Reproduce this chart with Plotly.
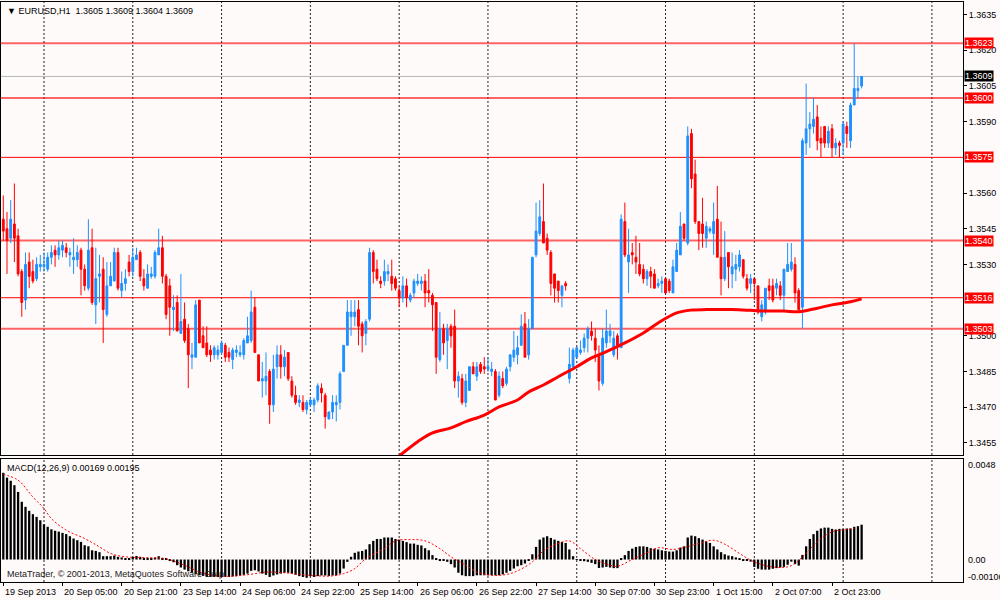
import plotly.graph_objects as go

# EURUSD H1, one entry per hourly bar (19 Sep 2013 13:00 .. 3 Oct 2013 07:00)
opens = [
    1.3549, 1.3545, 1.3541, 1.3547, 1.3542, 1.3527, 1.3515, 1.3531, 1.3527, 1.3524,
    1.3529, 1.3529, 1.3528, 1.3533, 1.3536, 1.3534, 1.3536, 1.3537, 1.3534, 1.3532,
    1.3532, 1.3536, 1.3528, 1.3520, 1.3537, 1.3513, 1.3525, 1.3528, 1.3509, 1.3521,
    1.3523, 1.3535, 1.3519, 1.3522, 1.3531, 1.3527, 1.3532, 1.3535, 1.3524, 1.3520,
    1.3525, 1.3525, 1.3534, 1.3537, 1.3525, 1.3521, 1.3511, 1.3514, 1.3501, 1.3507,
    1.3503, 1.3491, 1.3491, 1.3515, 1.3500, 1.3497, 1.3494, 1.3492, 1.3492, 1.3493,
    1.3496, 1.3493, 1.3490, 1.3493, 1.3492, 1.3492, 1.3497, 1.3498, 1.3512, 1.3492,
    1.3481, 1.3481, 1.3485, 1.3471, 1.3487, 1.3492, 1.3487, 1.3493, 1.3481, 1.3475,
    1.3472, 1.3472, 1.3469, 1.3471, 1.3471, 1.3473, 1.3478, 1.3475, 1.3465, 1.3468,
    1.3471, 1.3472, 1.3485, 1.3496, 1.3508, 1.3508, 1.3511, 1.3505, 1.3501, 1.3507,
    1.3535, 1.3528, 1.3523, 1.3523, 1.3526, 1.3525, 1.3524, 1.3519, 1.3516, 1.3521,
    1.3515, 1.3518, 1.3522, 1.3522, 1.3523, 1.3519, 1.3517, 1.3514, 1.3490, 1.3503,
    1.3498, 1.3504, 1.3504, 1.3481, 1.3482, 1.3472, 1.3477, 1.3487, 1.3483, 1.3488,
    1.3487, 1.3486, 1.3485, 1.3485, 1.3475, 1.3482, 1.3480, 1.3487, 1.3491, 1.3492,
    1.3496, 1.3505, 1.3492, 1.3503, 1.3534, 1.3543, 1.3548, 1.3541, 1.3535, 1.3526,
    1.3523, 1.3517, 1.3522, 1.3482, 1.3487, 1.3491, 1.3493, 1.3495, 1.3499, 1.3502,
    1.3499, 1.3492, 1.3480, 1.3497, 1.3500, 1.3492, 1.3500, 1.3495, 1.3548, 1.3531,
    1.3535, 1.3533, 1.3530, 1.3528, 1.3524, 1.3527, 1.3526, 1.3521, 1.3522, 1.3524,
    1.3523, 1.3518, 1.3527, 1.3534, 1.3547, 1.3539, 1.3585, 1.3568, 1.3548, 1.3547,
    1.3541, 1.3544, 1.3543, 1.3549, 1.3533, 1.3524, 1.3535, 1.3526, 1.3528, 1.3529,
    1.3532, 1.3524, 1.3522, 1.3524, 1.3521, 1.3508, 1.3510, 1.3521, 1.3521, 1.3520,
    1.3521, 1.3517, 1.3527, 1.3528, 1.3530, 1.3519, 1.3512, 1.3581, 1.3587, 1.3588,
    1.3592, 1.3583, 1.3588, 1.3581, 1.3587, 1.3579, 1.3581, 1.3581, 1.3588, 1.3582,
    1.3597, 1.3603, 1.3605,
]
highs = [
    1.3559, 1.3552, 1.3557, 1.3564, 1.3545, 1.3528, 1.3535, 1.3535, 1.3532, 1.3533,
    1.3534, 1.3535, 1.3535, 1.3538, 1.3538, 1.3540, 1.3540, 1.3539, 1.3537, 1.3541,
    1.3538, 1.3537, 1.3530, 1.3549, 1.3545, 1.3537, 1.3534, 1.3533, 1.3531, 1.3531,
    1.3537, 1.3537, 1.3527, 1.3528, 1.3534, 1.3537, 1.3537, 1.3536, 1.3528, 1.3530,
    1.3529, 1.3536, 1.3545, 1.3542, 1.3526, 1.3524, 1.3517, 1.3517, 1.3526, 1.3514,
    1.3505, 1.3497, 1.3515, 1.3515, 1.3504, 1.3504, 1.3496, 1.3496, 1.3496, 1.3498,
    1.3497, 1.3495, 1.3495, 1.3496, 1.3496, 1.3499, 1.3508, 1.3519, 1.3516, 1.3492,
    1.3489, 1.3493, 1.3486, 1.3492, 1.3496, 1.3496, 1.3494, 1.3493, 1.3483, 1.3479,
    1.3475, 1.3475, 1.3473, 1.3474, 1.3474, 1.3480, 1.3480, 1.3476, 1.3468, 1.3475,
    1.3475, 1.3485, 1.3496, 1.3515, 1.3515, 1.3515, 1.3515, 1.3506, 1.3507, 1.3537,
    1.3536, 1.3532, 1.3525, 1.3532, 1.3530, 1.3532, 1.3525, 1.3521, 1.3525, 1.3524,
    1.3518, 1.3524, 1.3526, 1.3525, 1.3526, 1.3528, 1.3518, 1.3514, 1.3510, 1.3505,
    1.3505, 1.3505, 1.3511, 1.3485, 1.3484, 1.3484, 1.3487, 1.3489, 1.3489, 1.3489,
    1.3491, 1.3491, 1.3489, 1.3486, 1.3485, 1.3485, 1.3487, 1.3492, 1.3502, 1.3500,
    1.3509, 1.3510, 1.3507, 1.3533, 1.3556, 1.3557, 1.3564, 1.3543, 1.3536, 1.3526,
    1.3523, 1.3521, 1.3523, 1.3495, 1.3495, 1.3495, 1.3498, 1.3501, 1.3504, 1.3506,
    1.3503, 1.3496, 1.3503, 1.3511, 1.3505, 1.3502, 1.3501, 1.3551, 1.3556, 1.3545,
    1.3539, 1.3542, 1.3539, 1.3530, 1.3528, 1.3529, 1.3528, 1.3524, 1.3525, 1.3524,
    1.3524, 1.3532, 1.3539, 1.3552, 1.3547, 1.3588, 1.3587, 1.3574, 1.3548, 1.3558,
    1.3548, 1.3546, 1.3556, 1.3563, 1.3548, 1.3544, 1.3535, 1.3535, 1.3534, 1.3536,
    1.3532, 1.3526, 1.3526, 1.3524, 1.3521, 1.3515, 1.3520, 1.3524, 1.3524, 1.3524,
    1.3523, 1.3528, 1.3539, 1.3539, 1.3533, 1.3520, 1.3583, 1.3606, 1.3594, 1.3600,
    1.3597, 1.3588, 1.3588, 1.3588, 1.3589, 1.3583, 1.3582, 1.3590, 1.3590, 1.3598,
    1.3623, 1.3609, 1.3609,
]
lows = [
    1.3540, 1.3526, 1.3539, 1.3531, 1.3525, 1.3508, 1.3511, 1.3520, 1.3522, 1.3523,
    1.3527, 1.3527, 1.3527, 1.3530, 1.3529, 1.3532, 1.3533, 1.3533, 1.3529, 1.3526,
    1.3529, 1.3517, 1.3519, 1.3519, 1.3513, 1.3505, 1.3514, 1.3497, 1.3508, 1.3521,
    1.3523, 1.3519, 1.3516, 1.3519, 1.3525, 1.3525, 1.3532, 1.3523, 1.3519, 1.3520,
    1.3524, 1.3524, 1.3534, 1.3522, 1.3507, 1.3500, 1.3502, 1.3502, 1.3501, 1.3497,
    1.3478, 1.3486, 1.3491, 1.3497, 1.3495, 1.3491, 1.3489, 1.3490, 1.3490, 1.3492,
    1.3489, 1.3489, 1.3486, 1.3491, 1.3491, 1.3490, 1.3497, 1.3497, 1.3493, 1.3481,
    1.3474, 1.3475, 1.3463, 1.3468, 1.3482, 1.3482, 1.3483, 1.3481, 1.3474, 1.3471,
    1.3470, 1.3468, 1.3467, 1.3470, 1.3468, 1.3472, 1.3472, 1.3461, 1.3465, 1.3465,
    1.3464, 1.3469, 1.3485, 1.3496, 1.3500, 1.3504, 1.3496, 1.3493, 1.3496, 1.3506,
    1.3522, 1.3523, 1.3520, 1.3521, 1.3523, 1.3519, 1.3519, 1.3512, 1.3514, 1.3512,
    1.3514, 1.3516, 1.3521, 1.3519, 1.3512, 1.3514, 1.3502, 1.3484, 1.3489, 1.3492,
    1.3486, 1.3495, 1.3478, 1.3474, 1.3471, 1.3470, 1.3477, 1.3484, 1.3481, 1.3484,
    1.3484, 1.3485, 1.3483, 1.3473, 1.3474, 1.3478, 1.3479, 1.3485, 1.3489, 1.3488,
    1.3496, 1.3491, 1.3490, 1.3503, 1.3533, 1.3542, 1.3539, 1.3534, 1.3517, 1.3514,
    1.3514, 1.3512, 1.3519, 1.3480, 1.3486, 1.3491, 1.3492, 1.3493, 1.3493, 1.3498,
    1.3489, 1.3477, 1.3479, 1.3495, 1.3497, 1.3491, 1.3490, 1.3495, 1.3533, 1.3518,
    1.3530, 1.3526, 1.3525, 1.3522, 1.3521, 1.3520, 1.3520, 1.3520, 1.3518, 1.3518,
    1.3518, 1.3518, 1.3527, 1.3534, 1.3540, 1.3538, 1.3562, 1.3547, 1.3536, 1.3537,
    1.3537, 1.3543, 1.3534, 1.3533, 1.3517, 1.3523, 1.3520, 1.3520, 1.3523, 1.3527,
    1.3524, 1.3519, 1.3518, 1.3515, 1.3509, 1.3506, 1.3509, 1.3515, 1.3514, 1.3517,
    1.3515, 1.3510, 1.3527, 1.3527, 1.3514, 1.3510, 1.3503, 1.3576, 1.3579, 1.3585,
    1.3578, 1.3575, 1.3579, 1.3579, 1.3575, 1.3576, 1.3575, 1.3576, 1.3579, 1.3579,
    1.3597, 1.3600, 1.3604,
]
closes = [
    1.3544, 1.3540, 1.3549, 1.3541, 1.3526, 1.3514, 1.3530, 1.3525, 1.3523, 1.3530,
    1.3530, 1.3530, 1.3533, 1.3535, 1.3534, 1.3537, 1.3538, 1.3535, 1.3535, 1.3533,
    1.3535, 1.3528, 1.3521, 1.3536, 1.3514, 1.3524, 1.3526, 1.3511, 1.3521, 1.3525,
    1.3535, 1.3520, 1.3522, 1.3524, 1.3527, 1.3533, 1.3534, 1.3525, 1.3521, 1.3526,
    1.3526, 1.3535, 1.3537, 1.3525, 1.3509, 1.3512, 1.3512, 1.3502, 1.3506, 1.3498,
    1.3492, 1.3492, 1.3513, 1.3497, 1.3495, 1.3492, 1.3492, 1.3495, 1.3494, 1.3497,
    1.3491, 1.3491, 1.3494, 1.3494, 1.3493, 1.3498, 1.3500, 1.3510, 1.3493, 1.3481,
    1.3482, 1.3483, 1.3471, 1.3486, 1.3492, 1.3487, 1.3491, 1.3482, 1.3475, 1.3472,
    1.3473, 1.3469, 1.3472, 1.3473, 1.3473, 1.3479, 1.3476, 1.3466, 1.3468, 1.3472,
    1.3472, 1.3484, 1.3496, 1.3510, 1.3510, 1.3510, 1.3504, 1.3500, 1.3506, 1.3535,
    1.3527, 1.3524, 1.3522, 1.3527, 1.3527, 1.3522, 1.3520, 1.3516, 1.3521, 1.3516,
    1.3517, 1.3523, 1.3523, 1.3523, 1.3518, 1.3518, 1.3513, 1.3491, 1.3503, 1.3497,
    1.3503, 1.3500, 1.3481, 1.3483, 1.3472, 1.3481, 1.3487, 1.3484, 1.3487, 1.3485,
    1.3486, 1.3487, 1.3486, 1.3473, 1.3483, 1.3479, 1.3486, 1.3492, 1.3494, 1.3495,
    1.3504, 1.3491, 1.3503, 1.3533, 1.3544, 1.3550, 1.3539, 1.3536, 1.3522, 1.3520,
    1.3519, 1.3521, 1.3521, 1.3488, 1.3494, 1.3495, 1.3494, 1.3499, 1.3503, 1.3500,
    1.3494, 1.3481, 1.3499, 1.3502, 1.3502, 1.3499, 1.3496, 1.3549, 1.3534, 1.3534,
    1.3534, 1.3531, 1.3526, 1.3524, 1.3527, 1.3525, 1.3520, 1.3522, 1.3523, 1.3518,
    1.3519, 1.3529, 1.3536, 1.3546, 1.3541, 1.3584, 1.3566, 1.3548, 1.3543, 1.3543,
    1.3546, 1.3545, 1.3548, 1.3533, 1.3524, 1.3533, 1.3529, 1.3529, 1.3530, 1.3534,
    1.3525, 1.3520, 1.3524, 1.3522, 1.3510, 1.3513, 1.3520, 1.3519, 1.3515, 1.3522,
    1.3517, 1.3528, 1.3530, 1.3531, 1.3518, 1.3511, 1.3582, 1.3587, 1.3589, 1.3591,
    1.3582, 1.3581, 1.3581, 1.3586, 1.3579, 1.3581, 1.3580, 1.3589, 1.3585, 1.3597,
    1.3604, 1.3604, 1.3609,
]
bars = list(range(len(closes)))

# moving average (below the pane before bar 107)
ma_bars = [104, 107, 112, 116, 121, 125, 130, 134, 139, 142,
           146, 150, 155, 159, 163, 168, 173, 177, 182, 186,
           190, 197, 202, 206, 211, 215, 220, 224, 229, 232]
ma_vals = [1.3446, 1.34495, 1.34555, 1.34592, 1.34613, 1.34639, 1.34667, 1.34701, 1.3473, 1.34764,
           1.34793, 1.34828, 1.3487, 1.34907, 1.34933, 1.3497, 1.35012, 1.35054, 1.35096, 1.35108,
           1.3511, 1.3511, 1.35107, 1.35104, 1.35104, 1.35101, 1.35116, 1.3513, 1.35143, 1.35155]

# MACD(12,26,9) histogram, one value per bar
macd = [
    0.00413, 0.00390, 0.00375, 0.00354, 0.00322, 0.00275, 0.00251, 0.00232, 0.00216, 0.00203,
    0.00187, 0.00168, 0.00156, 0.00144, 0.00137, 0.00133, 0.00127, 0.00121, 0.00111, 0.00100,
    0.00092, 0.00084, 0.00068, 0.00063, 0.00044, 0.00041, 0.00035, 0.00016, 0.00016, 0.00016,
    0.00019, 0.00013, 0.00010, 0.00005, 0.00006, 0.00013, 0.00017, 0.00013, 0.00008, 0.00008,
    0.00008, 0.00010, 0.00016, 0.00008, 0.00003, -0.00003, -0.00013, -0.00027, -0.00038, -0.00048,
    -0.00056, -0.00063, -0.00070, -0.00075, -0.00078, -0.00083, -0.00083, -0.00083, -0.00083, -0.00083,
    -0.00083, -0.00083, -0.00081, -0.00079, -0.00076, -0.00073, -0.00067, -0.00054, -0.00051, -0.00057,
    -0.00067, -0.00073, -0.00083, -0.00076, -0.00071, -0.00067, -0.00063, -0.00063, -0.00067, -0.00073,
    -0.00079, -0.00083, -0.00087, -0.00079, -0.00083, -0.00079, -0.00076, -0.00076, -0.00078, -0.00076,
    -0.00075, -0.00067, -0.00043, -0.00011, 0.00013, 0.00032, 0.00038, 0.00041, 0.00048, 0.00073,
    0.00089, 0.00098, 0.00098, 0.00105, 0.00105, 0.00105, 0.00098, 0.00095, 0.00089, 0.00083,
    0.00076, 0.00076, 0.00070, 0.00067, 0.00054, 0.00044, 0.00021, 0.00006, -0.00003, -0.00003,
    -0.00011, -0.00022, -0.00038, -0.00063, -0.00075, -0.00079, -0.00079, -0.00079, -0.00075, -0.00075,
    -0.00075, -0.00075, -0.00075, -0.00075, -0.00075, -0.00071, -0.00063, -0.00054, -0.00043, -0.00032,
    -0.00027, -0.00019, -0.00003, 0.00025, 0.00060, 0.00095, 0.00105, 0.00111, 0.00103, 0.00095,
    0.00089, 0.00084, 0.00079, 0.00048, 0.00016, -0.00001, -0.00006, -0.00008, -0.00011, -0.00016,
    -0.00022, -0.00040, -0.00038, -0.00035, -0.00038, -0.00041, -0.00041, 0.00003, 0.00021, 0.00041,
    0.00052, 0.00060, 0.00063, 0.00063, 0.00060, 0.00054, 0.00051, 0.00048, 0.00044, 0.00041,
    0.00038, 0.00038, 0.00044, 0.00057, 0.00063, 0.00105, 0.00114, 0.00111, 0.00102, 0.00095,
    0.00086, 0.00079, 0.00063, 0.00048, 0.00035, 0.00025, 0.00019, 0.00016, 0.00010, 0.00003,
    -0.00003, -0.00006, -0.00010, -0.00035, -0.00044, -0.00048, -0.00048, -0.00048, -0.00044, -0.00041,
    -0.00038, -0.00035, -0.00025, -0.00010, -0.00022, -0.00029, 0.00022, 0.00063, 0.00098, 0.00121,
    0.00137, 0.00148, 0.00152, 0.00152, 0.00146, 0.00143, 0.00146, 0.00146, 0.00148, 0.00148,
    0.00156, 0.00159, 0.00166,
]

# signal line, read at intervals along the dotted red curve
sig_bars = [0, 4, 8, 11, 13, 17, 22, 26, 29, 33,
            40, 44, 49, 53, 58, 62, 67, 71, 76, 80,
            85, 89, 92, 95, 98, 103, 106, 110, 114, 118,
            121, 125, 128, 132, 136, 139, 143, 146, 150, 153,
            156, 160, 164, 166, 170, 174, 177, 181, 184, 188,
            192, 195, 199, 202, 206, 210, 213, 217, 220, 224,
            228, 230]
sig_vals = [0.00406, 0.00378, 0.00298, 0.00243, 0.00195, 0.00140, 0.00100, 0.00060, 0.00029, 0.00013,
            0.00008, 0.00003, -0.00027, -0.00059, -0.00078, -0.00079, -0.00070, -0.00060, -0.00063, -0.00071,
            -0.00078, -0.00078, -0.00067, -0.00043, 0.00005, 0.00052, 0.00089, 0.00095, 0.00089, 0.00052,
            0.00013, -0.00027, -0.00059, -0.00075, -0.00071, -0.00054, -0.00011, 0.00041, 0.00076, 0.00089,
            0.00052, 0.00000, -0.00027, -0.00032, 0.00000, 0.00032, 0.00056, 0.00048, 0.00057, 0.00076,
            0.00092, 0.00073, 0.00029, -0.00003, -0.00029, -0.00038, -0.00029, 0.00029, 0.00084, 0.00132,
            0.00143, 0.00149]

# horizontal levels drawn on the chart
levels = [1.3623, 1.3600, 1.3575, 1.3540, 1.3516, 1.3503]
bid = 1.3609

price_ticks = [1.3455, 1.3470, 1.3485, 1.3500, 1.3530, 1.3545, 1.3560, 1.3590, 1.3605, 1.3620, 1.3635]
date_bars = [0, 16, 32, 48, 64, 80, 96, 112, 128, 144, 160, 176, 192, 208, 224]
date_labels = ['19 Sep 2013', '20 Sep 05:00', '20 Sep 21:00', '23 Sep 14:00', '24 Sep 06:00',
               '24 Sep 22:00', '25 Sep 14:00', '26 Sep 06:00', '26 Sep 22:00', '27 Sep 14:00',
               '30 Sep 07:00', '30 Sep 23:00', '1 Oct 15:00', '2 Oct 07:00', '2 Oct 23:00']
grid_bars = [11, 35, 59, 83, 107, 131, 155, 179, 203, 227, 251]

FONT = 'Liberation Sans, DejaVu Sans, sans-serif'
BG = '#FFFAFA'
BLUE = '#1E90FF'
RED = '#FF0000'

fig = go.Figure()

fig.add_trace(go.Candlestick(
    x=bars, open=opens, high=highs, low=lows, close=closes,
    increasing=dict(line=dict(color=BLUE, width=1), fillcolor=BLUE),
    decreasing=dict(line=dict(color=RED, width=1), fillcolor=RED),
    whiskerwidth=0, hoverinfo='skip', showlegend=False,
))

fig.add_trace(go.Scatter(
    x=ma_bars, y=ma_vals, mode='lines',
    line=dict(color=RED, width=3, shape='spline'),
    hoverinfo='skip', showlegend=False,
))

fig.add_trace(go.Bar(
    x=bars, y=macd, width=0.62, marker=dict(color='#000000', line=dict(width=0)),
    xaxis='x2', yaxis='y2', hoverinfo='skip', showlegend=False,
))

fig.add_trace(go.Scatter(
    x=sig_bars, y=sig_vals, mode='lines',
    line=dict(color=RED, width=1, dash='2px,2px', shape='spline'),
    xaxis='x2', yaxis='y2', hoverinfo='skip', showlegend=False,
))

shapes = []

# dotted vertical grid in both panes
for g in grid_bars:
    for yref in ['y domain', 'y2 domain']:
        shapes.append(dict(type='line', xref='x', yref=yref, x0=g, x1=g, y0=0, y1=1,
                           line=dict(color='#202020', width=1, dash='2px,2px'), layer='below'))

# level lines: some are drawn thin solid red, others wider and lighter
thin = {1.3575, 1.3516}
for lv in levels:
    if lv in thin:
        style = dict(color=RED, width=1)
    else:
        style = dict(color='rgba(255,0,0,0.6)', width=2)
    shapes.append(dict(type='line', xref='x domain', yref='y', x0=0, x1=1, y0=lv, y1=lv,
                       line=style, layer='below'))

# bid line
shapes.append(dict(type='line', xref='x domain', yref='y', x0=0, x1=1, y0=bid, y1=bid,
                   line=dict(color='#B8B8B8', width=1), layer='below'))

annotations = []

# price boxes on the right scale
for lv in levels:
    annotations.append(dict(xref='paper', x=1, xanchor='left', xshift=1, yref='y', y=lv,
                            text=f'{lv:.4f}', showarrow=False, bgcolor=RED, borderpad=0,
                            font=dict(family=FONT, size=9, color='white')))
annotations.append(dict(xref='paper', x=1, xanchor='left', xshift=1, yref='y', y=bid,
                        text=f'{bid:.4f}', showarrow=False, bgcolor='#000000', borderpad=0,
                        font=dict(family=FONT, size=9, color='white')))

# date labels start at their tick, MT4 style
for b, lab in zip(date_bars, date_labels):
    annotations.append(dict(xref='x2', x=b, xanchor='left', xshift=0, yref='paper', y=0,
                            yanchor='top', yshift=-3, text=lab, showarrow=False,
                            font=dict(family=FONT, size=9, color='black')))

# MACD scale labels
for val, lab in [(0.0045, '0.0048'), (0.0, '0.00'), (-0.00083, '-0.00106')]:
    annotations.append(dict(xref='paper', x=1, xanchor='left', xshift=3, yref='y2', y=val,
                            text=lab, showarrow=False,
                            font=dict(family=FONT, size=9, color='black')))

annotations += [
    dict(xref='paper', x=0, xanchor='left', xshift=4, yref='paper', y=1, yanchor='top', yshift=-2,
         text='\u25bc EURUSD,H1  1.3605 1.3609 1.3604 1.3609', showarrow=False,
         font=dict(family=FONT, size=9, color='black')),
    dict(xref='paper', x=0, xanchor='left', xshift=4, yref='paper', y=0.212, yanchor='top', yshift=-2,
         text='MACD(12,26,9) 0.00169 0.00195', showarrow=False,
         font=dict(family=FONT, size=9, color='black')),
    dict(xref='paper', x=0, xanchor='left', xshift=4, yref='paper', y=0, yanchor='bottom', yshift=1,
         text='MetaTrader, \u00a9 2001-2013, MetaQuotes Software Corp.', showarrow=False,
         font=dict(family=FONT, size=9, color='#202020')),
]

axis_common = dict(showgrid=False, zeroline=False, showline=True, mirror=True,
                   linecolor='black', linewidth=1)

fig.update_layout(
    width=1000, height=600,
    margin=dict(l=1, r=37, t=2, b=18),
    paper_bgcolor=BG, plot_bgcolor=BG,
    showlegend=False, hovermode=False,
    font=dict(family=FONT, size=9, color='black'),
    xaxis=dict(domain=[0, 1], range=[-0.62, 259.4], anchor='y', showticklabels=False, ticks='',
               rangeslider=dict(visible=False), **axis_common),
    yaxis=dict(domain=[0.219, 1], range=[1.34499, 1.36403], side='right', anchor='x',
               tickvals=price_ticks, tickformat='.4f', ticks='outside', ticklen=3,
               tickcolor='black', tickfont=dict(family=FONT, size=9, color='black'),
               **axis_common),
    xaxis2=dict(domain=[0, 1], matches='x', anchor='y2', showticklabels=False,
                ticks='outside', tickvals=date_bars, ticklen=3, tickcolor='black',
                **axis_common),
    yaxis2=dict(domain=[0, 0.212], range=[-0.00107, 0.004786], side='right', anchor='x2',
                showticklabels=False, ticks='', **axis_common),
    shapes=shapes,
    annotations=annotations,
)

# the page's default body margin would push the 1000x600 figure out of the window
fig.write_html('out.html', config={'displayModeBar': False},
               post_script="document.body.style.margin='0px';document.body.style.overflow='hidden';")
